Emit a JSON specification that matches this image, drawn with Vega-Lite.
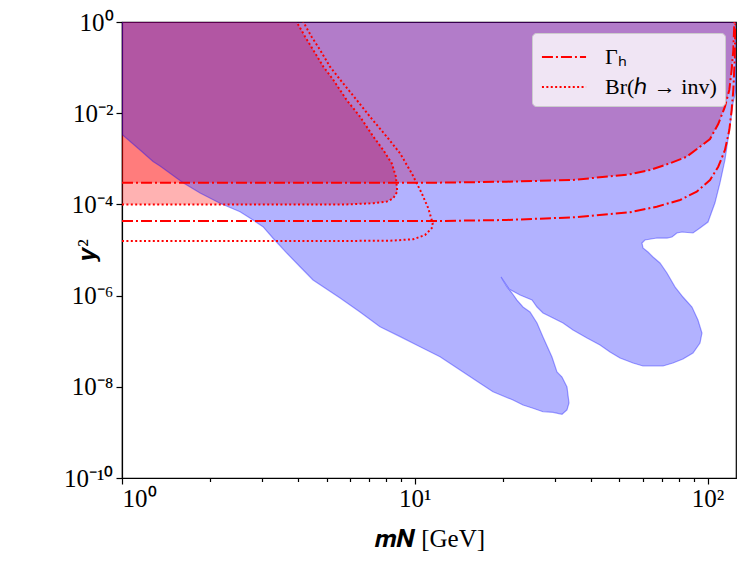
{
  "$schema": "https://vega.github.io/schema/vega-lite/v6.json",
  "width": 614,
  "height": 456,
  "autosize": {"type": "none"},
  "padding": {"left": 122, "top": 22, "right": 12, "bottom": 87},
  "background": "white",
  "datasets": {
    "regions": [
      {"reg": "br", "o": 1, "m": 1, "y": 1},
      {"reg": "br", "o": 2, "m": 1, "y": 1e-4},
      {"reg": "br", "o": 3, "m": 3.46, "y": 1e-4},
      {"reg": "br", "o": 4, "m": 5.85, "y": 1e-4},
      {"reg": "br", "o": 5, "m": 7.22, "y": 1.06e-4},
      {"reg": "br", "o": 6, "m": 8.02, "y": 1.15e-4},
      {"reg": "br", "o": 7, "m": 8.44, "y": 1.36e-4},
      {"reg": "br", "o": 8, "m": 8.71, "y": 1.9e-4},
      {"reg": "br", "o": 9, "m": 8.62, "y": 4.05e-4},
      {"reg": "br", "o": 10, "m": 8.34, "y": 7.97e-4},
      {"reg": "br", "o": 11, "m": 7.8, "y": 1.56e-3},
      {"reg": "br", "o": 12, "m": 7.22, "y": 3.05e-3},
      {"reg": "br", "o": 13, "m": 6.5, "y": 8.38e-3},
      {"reg": "br", "o": 14, "m": 5.85, "y": 0.0195},
      {"reg": "br", "o": 15, "m": 5.27, "y": 0.0535},
      {"reg": "br", "o": 16, "m": 4.87, "y": 0.105},
      {"reg": "br", "o": 17, "m": 4.5, "y": 0.243},
      {"reg": "br", "o": 18, "m": 4.22, "y": 0.476},
      {"reg": "br", "o": 19, "m": 3.95, "y": 1},
      {"reg": "blue", "o": 1, "m": 1, "y": 1},
      {"reg": "blue", "o": 2, "m": 1, "y": 3.4e-3},
      {"reg": "blue", "o": 3, "m": 1.152, "y": 1.56e-3},
      {"reg": "blue", "o": 4, "m": 1.276, "y": 8.73e-4},
      {"reg": "blue", "o": 5, "m": 1.348, "y": 6.95e-4},
      {"reg": "blue", "o": 6, "m": 1.616, "y": 2.99e-4},
      {"reg": "blue", "o": 7, "m": 1.847, "y": 1.78e-4},
      {"reg": "blue", "o": 8, "m": 2.161, "y": 1.06e-4},
      {"reg": "blue", "o": 9, "m": 2.529, "y": 6.92e-5},
      {"reg": "blue", "o": 10, "m": 2.802, "y": 4.55e-5},
      {"reg": "blue", "o": 11, "m": 3.03, "y": 3.24e-5},
      {"reg": "blue", "o": 12, "m": 3.28, "y": 1.81e-5},
      {"reg": "blue", "o": 13, "m": 3.66, "y": 8.47e-6},
      {"reg": "blue", "o": 14, "m": 4.055, "y": 4.3e-6},
      {"reg": "blue", "o": 15, "m": 4.49, "y": 2.2e-6},
      {"reg": "blue", "o": 16, "m": 5.554, "y": 8.85e-7},
      {"reg": "blue", "o": 17, "m": 6.497, "y": 4.37e-7},
      {"reg": "blue", "o": 18, "m": 7.604, "y": 2.08e-7},
      {"reg": "blue", "o": 19, "m": 8.9, "y": 1.26e-7},
      {"reg": "blue", "o": 20, "m": 10.42, "y": 7.57e-8},
      {"reg": "blue", "o": 21, "m": 12.19, "y": 4.57e-8},
      {"reg": "blue", "o": 22, "m": 14.27, "y": 2.33e-8},
      {"reg": "blue", "o": 23, "m": 16.7, "y": 1.19e-8},
      {"reg": "blue", "o": 24, "m": 18.49, "y": 7.81e-9},
      {"reg": "blue", "o": 25, "m": 21.64, "y": 5.13e-9},
      {"reg": "blue", "o": 26, "m": 23.41, "y": 3.99e-9},
      {"reg": "blue", "o": 27, "m": 25.33, "y": 3.38e-9},
      {"reg": "blue", "o": 28, "m": 27.4, "y": 2.84e-9},
      {"reg": "blue", "o": 29, "m": 29.65, "y": 2.76e-9},
      {"reg": "blue", "o": 30, "m": 31.82, "y": 2.5e-9},
      {"reg": "blue", "o": 31, "m": 33.09, "y": 3.1e-9},
      {"reg": "blue", "o": 32, "m": 33.62, "y": 4.41e-9},
      {"reg": "blue", "o": 33, "m": 33.09, "y": 9.9e-9},
      {"reg": "blue", "o": 34, "m": 31.82, "y": 1.64e-8},
      {"reg": "blue", "o": 35, "m": 30.59, "y": 2.11e-8},
      {"reg": "blue", "o": 36, "m": 29.41, "y": 4.5e-8},
      {"reg": "blue", "o": 37, "m": 27.4, "y": 1.24e-7},
      {"reg": "blue", "o": 38, "m": 26.14, "y": 2.51e-7},
      {"reg": "blue", "o": 39, "m": 24.74, "y": 4.37e-7},
      {"reg": "blue", "o": 40, "m": 23.41, "y": 5.62e-7},
      {"reg": "blue", "o": 41, "m": 22.33, "y": 8.0e-7},
      {"reg": "blue", "o": 42, "m": 21.47, "y": 1.14e-6},
      {"reg": "blue", "o": 43, "m": 20.65, "y": 1.55e-6},
      {"reg": "blue", "o": 44, "m": 19.7, "y": 2.56e-6},
      {"reg": "blue", "o": 45, "m": 20.97, "y": 1.4e-6},
      {"reg": "blue", "o": 46, "m": 22.87, "y": 1.03e-6},
      {"reg": "blue", "o": 47, "m": 25.13, "y": 8.0e-7},
      {"reg": "blue", "o": 48, "m": 26.14, "y": 5.62e-7},
      {"reg": "blue", "o": 49, "m": 27.4, "y": 4.15e-7},
      {"reg": "blue", "o": 50, "m": 29.65, "y": 3.23e-7},
      {"reg": "blue", "o": 51, "m": 32.07, "y": 2.51e-7},
      {"reg": "blue", "o": 52, "m": 34.69, "y": 1.76e-7},
      {"reg": "blue", "o": 53, "m": 38.73, "y": 1.17e-7},
      {"reg": "blue", "o": 54, "m": 42.9, "y": 8.26e-8},
      {"reg": "blue", "o": 55, "m": 46.4, "y": 5.8e-8},
      {"reg": "blue", "o": 56, "m": 50.2, "y": 4.28e-8},
      {"reg": "blue", "o": 57, "m": 55.61, "y": 3.33e-8},
      {"reg": "blue", "o": 58, "m": 60.15, "y": 2.86e-8},
      {"reg": "blue", "o": 59, "m": 70.39, "y": 2.86e-8},
      {"reg": "blue", "o": 60, "m": 76.15, "y": 3.33e-8},
      {"reg": "blue", "o": 61, "m": 82.37, "y": 4.07e-8},
      {"reg": "blue", "o": 62, "m": 89.13, "y": 5.51e-8},
      {"reg": "blue", "o": 63, "m": 94.17, "y": 9.12e-8},
      {"reg": "blue", "o": 64, "m": 95.65, "y": 1.51e-7},
      {"reg": "blue", "o": 65, "m": 92.69, "y": 2.92e-7},
      {"reg": "blue", "o": 66, "m": 88.42, "y": 5.62e-7},
      {"reg": "blue", "o": 67, "m": 82.37, "y": 9.31e-7},
      {"reg": "blue", "o": 68, "m": 77.35, "y": 1.55e-6},
      {"reg": "blue", "o": 69, "m": 72.63, "y": 3.13e-6},
      {"reg": "blue", "o": 70, "m": 68.76, "y": 5.19e-6},
      {"reg": "blue", "o": 71, "m": 65.08, "y": 7.02e-6},
      {"reg": "blue", "o": 72, "m": 62.57, "y": 9.03e-6},
      {"reg": "blue", "o": 73, "m": 60.15, "y": 1.11e-5},
      {"reg": "blue", "o": 74, "m": 59.68, "y": 1.42e-5},
      {"reg": "blue", "o": 75, "m": 61.1, "y": 1.66e-5},
      {"reg": "blue", "o": 76, "m": 67.14, "y": 1.83e-5},
      {"reg": "blue", "o": 77, "m": 72.63, "y": 1.83e-5},
      {"reg": "blue", "o": 78, "m": 75.53, "y": 1.93e-5},
      {"reg": "blue", "o": 79, "m": 78.56, "y": 2.36e-5},
      {"reg": "blue", "o": 80, "m": 81.74, "y": 2.48e-5},
      {"reg": "blue", "o": 81, "m": 89.13, "y": 2.36e-5},
      {"reg": "blue", "o": 82, "m": 94.17, "y": 3.04e-5},
      {"reg": "blue", "o": 83, "m": 100.3, "y": 4.11e-5},
      {"reg": "blue", "o": 84, "m": 105.9, "y": 1.07e-4},
      {"reg": "blue", "o": 85, "m": 110.2, "y": 2.95e-4},
      {"reg": "blue", "o": 86, "m": 114.6, "y": 9.41e-4},
      {"reg": "blue", "o": 87, "m": 117.3, "y": 2.58e-3},
      {"reg": "blue", "o": 88, "m": 120.1, "y": 7.1e-3},
      {"reg": "blue", "o": 89, "m": 122.1, "y": 1.67e-2},
      {"reg": "blue", "o": 90, "m": 125, "y": 3.23e-2},
      {"reg": "blue", "o": 91, "m": 125, "y": 1}
    ],
    "curves": [
      {"c": "G1", "kind": "Γₕ", "o": 1, "m": 1, "y": 3.0e-4},
      {"c": "G1", "kind": "Γₕ", "o": 2, "m": 12.19, "y": 3.0e-4},
      {"c": "G1", "kind": "Γₕ", "o": 3, "m": 20.6, "y": 3.15e-4},
      {"c": "G1", "kind": "Γₕ", "o": 4, "m": 34.7, "y": 3.43e-4},
      {"c": "G1", "kind": "Γₕ", "o": 5, "m": 54.3, "y": 4.57e-4},
      {"c": "G1", "kind": "Γₕ", "o": 6, "m": 63.5, "y": 5.68e-4},
      {"c": "G1", "kind": "Γₕ", "o": 7, "m": 74.4, "y": 7.97e-4},
      {"c": "G1", "kind": "Γₕ", "o": 8, "m": 84.8, "y": 1.11e-3},
      {"c": "G1", "kind": "Γₕ", "o": 9, "m": 94.2, "y": 1.84e-3},
      {"c": "G1", "kind": "Γₕ", "o": 10, "m": 101.9, "y": 2.72e-3},
      {"c": "G1", "kind": "Γₕ", "o": 11, "m": 108.7, "y": 5.8e-3},
      {"c": "G1", "kind": "Γₕ", "o": 12, "m": 114.6, "y": 0.0139},
      {"c": "G1", "kind": "Γₕ", "o": 13, "m": 118.6, "y": 0.0323},
      {"c": "G1", "kind": "Γₕ", "o": 14, "m": 120.8, "y": 0.0886},
      {"c": "G1", "kind": "Γₕ", "o": 15, "m": 122.4, "y": 0.243},
      {"c": "G1", "kind": "Γₕ", "o": 16, "m": 123.3, "y": 0.86},
      {"c": "G1", "kind": "Γₕ", "o": 17, "m": 123.5, "y": 1},
      {"c": "G2", "kind": "Γₕ", "o": 1, "m": 1, "y": 4.33e-5},
      {"c": "G2", "kind": "Γₕ", "o": 2, "m": 12.19, "y": 4.33e-5},
      {"c": "G2", "kind": "Γₕ", "o": 3, "m": 20.6, "y": 4.55e-5},
      {"c": "G2", "kind": "Γₕ", "o": 4, "m": 34.8, "y": 5.21e-5},
      {"c": "G2", "kind": "Γₕ", "o": 5, "m": 54.3, "y": 6.71e-5},
      {"c": "G2", "kind": "Γₕ", "o": 6, "m": 67.0, "y": 8.9e-5},
      {"c": "G2", "kind": "Γₕ", "o": 7, "m": 80.5, "y": 1.25e-4},
      {"c": "G2", "kind": "Γₕ", "o": 8, "m": 91.8, "y": 1.9e-4},
      {"c": "G2", "kind": "Γₕ", "o": 9, "m": 101.9, "y": 3.43e-4},
      {"c": "G2", "kind": "Γₕ", "o": 10, "m": 108.7, "y": 6.71e-4},
      {"c": "G2", "kind": "Γₕ", "o": 11, "m": 114.6, "y": 1.56e-3},
      {"c": "G2", "kind": "Γₕ", "o": 12, "m": 118.6, "y": 4.28e-3},
      {"c": "G2", "kind": "Γₕ", "o": 13, "m": 120.8, "y": 0.01175},
      {"c": "G2", "kind": "Γₕ", "o": 14, "m": 122.4, "y": 0.0323},
      {"c": "G2", "kind": "Γₕ", "o": 15, "m": 123.7, "y": 0.147},
      {"c": "G2", "kind": "Γₕ", "o": 16, "m": 124.3, "y": 0.789},
      {"c": "G2", "kind": "Γₕ", "o": 17, "m": 124.5, "y": 1},
      {"c": "B1", "kind": "Br(ℎ → inv)", "o": 1, "m": 1, "y": 1e-4},
      {"c": "B1", "kind": "Br(ℎ → inv)", "o": 2, "m": 3.46, "y": 1e-4},
      {"c": "B1", "kind": "Br(ℎ → inv)", "o": 3, "m": 5.85, "y": 1e-4},
      {"c": "B1", "kind": "Br(ℎ → inv)", "o": 4, "m": 7.22, "y": 1.06e-4},
      {"c": "B1", "kind": "Br(ℎ → inv)", "o": 5, "m": 8.02, "y": 1.15e-4},
      {"c": "B1", "kind": "Br(ℎ → inv)", "o": 6, "m": 8.44, "y": 1.36e-4},
      {"c": "B1", "kind": "Br(ℎ → inv)", "o": 7, "m": 8.71, "y": 1.9e-4},
      {"c": "B1", "kind": "Br(ℎ → inv)", "o": 8, "m": 8.62, "y": 4.05e-4},
      {"c": "B1", "kind": "Br(ℎ → inv)", "o": 9, "m": 8.34, "y": 7.97e-4},
      {"c": "B1", "kind": "Br(ℎ → inv)", "o": 10, "m": 7.8, "y": 1.56e-3},
      {"c": "B1", "kind": "Br(ℎ → inv)", "o": 11, "m": 7.22, "y": 3.05e-3},
      {"c": "B1", "kind": "Br(ℎ → inv)", "o": 12, "m": 6.5, "y": 8.38e-3},
      {"c": "B1", "kind": "Br(ℎ → inv)", "o": 13, "m": 5.85, "y": 0.0195},
      {"c": "B1", "kind": "Br(ℎ → inv)", "o": 14, "m": 5.27, "y": 0.0535},
      {"c": "B1", "kind": "Br(ℎ → inv)", "o": 15, "m": 4.87, "y": 0.105},
      {"c": "B1", "kind": "Br(ℎ → inv)", "o": 16, "m": 4.5, "y": 0.243},
      {"c": "B1", "kind": "Br(ℎ → inv)", "o": 17, "m": 4.22, "y": 0.476},
      {"c": "B1", "kind": "Br(ℎ → inv)", "o": 18, "m": 3.95, "y": 1},
      {"c": "B2", "kind": "Br(ℎ → inv)", "o": 1, "m": 1, "y": 1.58e-5},
      {"c": "B2", "kind": "Br(ℎ → inv)", "o": 2, "m": 5.85, "y": 1.58e-5},
      {"c": "B2", "kind": "Br(ℎ → inv)", "o": 3, "m": 8.23, "y": 1.6e-5},
      {"c": "B2", "kind": "Br(ℎ → inv)", "o": 4, "m": 9.88, "y": 1.72e-5},
      {"c": "B2", "kind": "Br(ℎ → inv)", "o": 5, "m": 10.83, "y": 2.13e-5},
      {"c": "B2", "kind": "Br(ℎ → inv)", "o": 6, "m": 11.42, "y": 2.99e-5},
      {"c": "B2", "kind": "Br(ℎ → inv)", "o": 7, "m": 11.51, "y": 3.85e-5},
      {"c": "B2", "kind": "Br(ℎ → inv)", "o": 8, "m": 11.12, "y": 8.21e-5},
      {"c": "B2", "kind": "Br(ℎ → inv)", "o": 9, "m": 10.56, "y": 1.75e-4},
      {"c": "B2", "kind": "Br(ℎ → inv)", "o": 10, "m": 9.76, "y": 4.81e-4},
      {"c": "B2", "kind": "Br(ℎ → inv)", "o": 11, "m": 8.9, "y": 1.32e-3},
      {"c": "B2", "kind": "Br(ℎ → inv)", "o": 12, "m": 8.02, "y": 3.05e-3},
      {"c": "B2", "kind": "Br(ℎ → inv)", "o": 13, "m": 7.03, "y": 8.38e-3},
      {"c": "B2", "kind": "Br(ℎ → inv)", "o": 14, "m": 6.33, "y": 0.0195},
      {"c": "B2", "kind": "Br(ℎ → inv)", "o": 15, "m": 5.63, "y": 0.0491},
      {"c": "B2", "kind": "Br(ℎ → inv)", "o": 16, "m": 5.13, "y": 0.105},
      {"c": "B2", "kind": "Br(ℎ → inv)", "o": 17, "m": 4.75, "y": 0.243},
      {"c": "B2", "kind": "Br(ℎ → inv)", "o": 18, "m": 4.44, "y": 0.476},
      {"c": "B2", "kind": "Br(ℎ → inv)", "o": 19, "m": 4.16, "y": 1}
    ]
  },
  "encoding": {
    "x": {
      "field": "m",
      "type": "quantitative",
      "scale": {"type": "log", "domain": [1, 125], "nice": false},
      "axis": {
        "title": "𝒎𝑵 [GeV]",
        "values": [1, 2, 3, 4, 5, 6, 7, 8, 9, 10, 20, 30, 40, 50, 60, 70, 80, 90, 100],
        "labelExpr": "datum.value == 1 ? '10⁰' : datum.value == 10 ? '10¹' : datum.value == 100 ? '10²' : ''",
        "tickSize": {"condition": {"test": "datum.value == 1 || datum.value == 10 || datum.value == 100", "value": 6}, "value": 3.5},
        "labelPadding": 2,
        "titleY": 60,
        "titleBaseline": "middle"
      }
    },
    "y": {
      "field": "y",
      "type": "quantitative",
      "scale": {"type": "log", "domain": [1e-10, 1], "nice": false},
      "axis": {
        "title": "𝒚²",
        "values": [1, 1e-2, 1e-4, 1e-6, 1e-8, 1e-10],
        "labelExpr": "'10' + (datum.value > 0.5 ? '⁰' : datum.value > 1e-3 ? '⁻²' : datum.value > 1e-5 ? '⁻⁴' : datum.value > 1e-7 ? '⁻⁶' : datum.value > 1e-9 ? '⁻⁸' : '⁻¹⁰')",
        "tickSize": 6,
        "labelPadding": 3,
        "titleX": -36,
        "titleY": 228,
        "titleAngle": -90,
        "titleAlign": "center",
        "titleBaseline": "middle"
      }
    }
  },
  "layer": [
    {
      "data": {"name": "regions"},
      "transform": [{"filter": "datum.reg == 'br'"}],
      "mark": {"type": "line", "fill": "#ff0000", "fillOpacity": 0.3, "strokeWidth": 0, "clip": true},
      "encoding": {"order": {"field": "o", "type": "quantitative"}}
    },
    {
      "data": {"name": "curves"},
      "transform": [{"filter": "datum.c == 'G1'"}],
      "mark": {"type": "area", "color": "#ff0000", "fillOpacity": 0.3, "clip": true},
      "encoding": {"y2": {"datum": 1}}
    },
    {
      "data": {"name": "regions"},
      "transform": [{"filter": "datum.reg == 'blue'"}],
      "mark": {"type": "line", "fill": "#0000ff", "fillOpacity": 0.3, "stroke": "#0000ff", "strokeOpacity": 0.35, "strokeWidth": 1.2, "clip": true},
      "encoding": {"order": {"field": "o", "type": "quantitative"}}
    },
    {
      "data": {"name": "curves"},
      "mark": {"type": "line", "color": "#ff0000", "strokeWidth": 2, "clip": true},
      "encoding": {
        "detail": {"field": "c", "type": "nominal"},
        "order": {"field": "o", "type": "quantitative"},
        "strokeDash": {
          "field": "kind",
          "type": "nominal",
          "scale": {"domain": ["Γₕ", "Br(ℎ → inv)"], "range": [[11, 3, 2, 3], [2, 2.4]]},
          "legend": {"title": null}
        }
      }
    }
  ],
  "config": {
    "view": {"stroke": "black", "strokeWidth": 1.2},
    "font": "Liberation Serif",
    "axis": {
      "grid": false,
      "labelFont": "Liberation Serif",
      "labelFontSize": 25,
      "labelColor": "black",
      "titleFont": "Liberation Serif",
      "titleFontSize": 25,
      "titleFontWeight": "normal",
      "titleColor": "black",
      "domainColor": "black",
      "domainWidth": 1.2,
      "tickColor": "black",
      "tickWidth": 1.2
    },
    "legend": {
      "orient": "top-right",
      "offset": 11,
      "fillColor": "rgba(255,255,255,0.8)",
      "strokeColor": "#cccccc",
      "cornerRadius": 4,
      "padding": 8,
      "symbolOffset": 8,
      "labelFont": "Liberation Serif",
      "labelFontSize": 22,
      "labelColor": "black",
      "labelOffset": 25,
      "symbolType": "M-1.47,0H1.47",
      "symbolStrokeColor": "#ff0000",
      "symbolStrokeWidth": 2,
      "symbolSize": 900,
      "rowPadding": 3
    }
  }
}
